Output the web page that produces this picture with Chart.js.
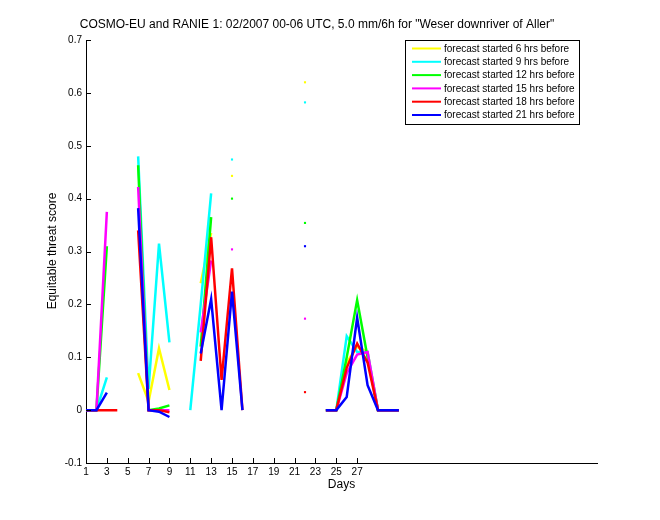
<!DOCTYPE html>
<html>
<head>
<meta charset="utf-8">
<script src="https://cdn.jsdelivr.net/npm/chart.js@4/dist/chart.umd.min.js"></script>
<style>
  html, body { margin: 0; padding: 0; background: #fff; }
  #wrap { width: 660px; height: 520px; }
</style>
</head>
<body>
<div id="wrap"><canvas id="myChart" width="660" height="520"></canvas></div>
<script>
// days of February 2007 (x values)
const days = [1, 2, 3, 4, 5, 6, 7, 8, 9, 10, 11, 12, 13, 14, 15, 16,
  17, 18, 19, 20, 21, 22, 23, 24, 25, 26, 27, 28, 29, 30, 31];
const xTicks = [1, 3, 5, 7, 9, 11, 13, 15, 17, 19, 21, 23, 25, 27];

// equitable threat score per forecast lead, null = no value
const ets6h = [0, 0, null, null, null, 0.07, 0.016, 0.117, 0.038, null, null, 0.24, 0.335, null, 0.443, null,
  null, null, null, null, null, 0.62, null, 0, 0, 0.09, 0.12, 0.11, 0, 0, 0];
const ets9h = [0, 0, 0.062, null, null, 0.48, 0.04, 0.315, 0.128, null, 0, 0.2, 0.41, null, 0.474, null,
  null, null, null, null, null, 0.582, null, 0, 0, 0.14, 0.11, 0.11, 0, 0, 0];
const ets12h = [0, 0, 0.31, null, null, 0.463, 0, 0.003, 0.009, null, null, 0.12, 0.365, null, 0.40, null,
  null, null, null, null, null, 0.354, null, 0, 0, 0.1, 0.208, 0.1, 0, 0, 0];
const ets15h = [0, 0, 0.375, null, null, 0.422, 0, 0, 0, null, null, 0.147, 0.283, null, 0.304, null,
  null, null, null, null, null, 0.173, null, 0, 0, 0.07, 0.105, 0.11, 0, 0, 0];
const ets18h = [0, 0, 0, 0, null, 0.34, 0, 0, -0.004, null, null, 0.093, 0.327, 0.057, 0.268, 0,
  null, null, null, null, null, 0.034, null, 0, 0, 0.08, 0.126, 0.09, 0, 0, 0];
const ets21h = [0, 0, 0.033, null, null, 0.382, 0, -0.003, -0.013, null, null, 0.107, 0.21, 0, 0.224, 0,
  null, null, null, null, null, 0.31, null, 0, 0, 0.025, 0.175, 0.047, 0, 0, 0];

const series = [
  { label: "forecast started 6 hrs before", data: ets6h, color: "#ffff00" },
  { label: "forecast started 9 hrs before", data: ets9h, color: "#00ffff" },
  { label: "forecast started 12 hrs before", data: ets12h, color: "#00ff00" },
  { label: "forecast started 15 hrs before", data: ets15h, color: "#ff00ff" },
  { label: "forecast started 18 hrs before", data: ets18h, color: "#ff0000" },
  { label: "forecast started 21 hrs before", data: ets21h, color: "#0000ff" },
];

const titleText = 'COSMO-EU and RANIE 1: 02/2007 00-06 UTC, 5.0 mm/6h for "Weser downriver of Aller"';
const font = "'Liberation Sans', Arial, Helvetica, sans-serif";

// single values with no neighbours are shown as a small dot, like matlab does
function isolatedRadius(c) {
  const d = c.dataset.data;
  const i = c.dataIndex;
  if (d[i].y === null) return 0;
  const prev = i > 0 ? d[i - 1].y : null;
  const next = i < d.length - 1 ? d[i + 1].y : null;
  return prev === null && next === null ? 1.5 : 0;
}

const matlabLook = {
  id: "matlabLook",
  afterDraw(chart) {
    const c = chart.ctx;
    const xs = chart.scales.x, ys = chart.scales.y;
    const a = chart.chartArea;
    c.save();
    c.strokeStyle = "#000";
    c.lineWidth = 1;
    // inward tick marks
    c.beginPath();
    xTicks.forEach(v => {
      const px = Math.round(xs.getPixelForValue(v)) + 0.5;
      c.moveTo(px, a.bottom);
      c.lineTo(px, a.bottom - 5);
    });
    ys.ticks.forEach(t => {
      const py = Math.round(ys.getPixelForValue(t.value)) + 0.5;
      c.moveTo(a.left, py);
      c.lineTo(a.left + 5, py);
    });
    c.stroke();

    // title and axis labels
    c.fillStyle = "#000";
    c.textAlign = "center";
    c.textBaseline = "middle";
    c.font = "12px " + font;
    c.fillText(titleText, 317, 25);
    c.fillText("Days", (a.left + a.right) / 2, 485);
    c.save();
    c.translate(53, 251);
    c.rotate(-Math.PI / 2);
    c.fillText("Equitable threat score", 0, 0);
    c.restore();

    // legend box
    c.fillStyle = "#fff";
    c.fillRect(405.5, 40.5, 174, 84);
    c.strokeRect(405.5, 40.5, 174, 84);
    c.font = "10px " + font;
    c.textAlign = "left";
    series.forEach((s, i) => {
      const y = 48.5 + i * 13.3;
      c.strokeStyle = s.color;
      c.lineWidth = 2;
      c.beginPath();
      c.moveTo(412, y);
      c.lineTo(441, y);
      c.stroke();
      c.fillStyle = "#000";
      c.fillText(s.label, 444, y + 0.5);
    });
    c.restore();
  }
};

const ctx = document.getElementById("myChart").getContext("2d");

const myChart = new Chart(ctx, {
  type: "line",
  data: {
    datasets: series.map((s, i) => ({
      label: s.label,
      data: days.map((d, j) => ({ x: d, y: s.data[j] })),
      borderColor: s.color,
      backgroundColor: s.color,
      borderWidth: 2.5,
      tension: 0,
      spanGaps: false,
      pointStyle: "rect",
      pointRadius: isolatedRadius,
      pointBorderWidth: 0,
      pointHoverRadius: 0,
      order: series.length - i,
    })),
  },
  options: {
    responsive: false,
    animation: false,
    events: [],
    layout: { padding: { top: 40, right: 63, left: 0, bottom: 0 } },
    plugins: {
      legend: { display: false },
      tooltip: { enabled: false },
      title: { display: false },
    },
    scales: {
      x: {
        type: "linear",
        min: 1,
        max: 50,
        afterBuildTicks: (scale) => {
          scale.ticks = xTicks.map(v => ({ value: v }));
        },
        afterFit: (scale) => { scale.height = 57; },
        grid: { display: false, drawTicks: false },
        border: { display: true, color: "#000", width: 1 },
        ticks: {
          color: "#000",
          font: { family: font, size: 10 },
          padding: 3,
          maxRotation: 0,
          autoSkip: false,
        },
      },
      y: {
        min: -0.1,
        max: 0.7,
        afterFit: (scale) => { scale.width = 86; },
        grid: { display: false, drawTicks: false },
        border: { display: true, color: "#000", width: 1 },
        ticks: {
          stepSize: 0.1,
          color: "#000",
          font: { family: font, size: 10 },
          padding: 4,
          callback: (v) => String(Math.round(v * 10) / 10),
        },
      },
    },
  },
  plugins: [matlabLook],
});
</script>
</body>
</html>
